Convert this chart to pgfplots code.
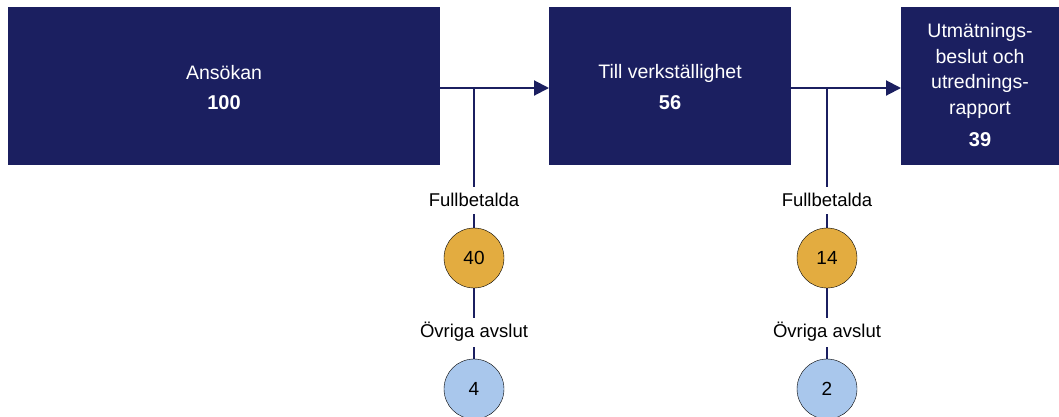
\documentclass[border=0pt]{standalone}
\usepackage{pgfplots}
\pgfplotsset{compat=1.18}
\usepackage{pgfplotstable}
\usetikzlibrary{arrows.meta}
\usepackage{fontspec}
\setmainfont{Liberation Sans}
\definecolor{navy}{RGB}{27,31,96}
\definecolor{gold}{RGB}{227,172,64}
\definecolor{lblue}{RGB}{169,199,236}
\pgfplotstableread{
x y v
224 103 100
670 103 56
980 140 39
}\boxvals
\pgfplotstableread{
x y v
474 258 40
827 258 14
}\fullb
\pgfplotstableread{
x y v
474 389 4
827 389 2
}\ovriga
\begin{document}
\begin{tikzpicture}
\begin{axis}[
  scale only axis, width=1059pt, height=416pt,
  xmin=0, xmax=1059, ymin=0, ymax=416, y dir=reverse,
  hide axis, clip marker paths=true,
  every node near coord/.append style={anchor=center},
]
\addplot[draw=none] coordinates {(0,0) (1059,416)};
% boxes
\addplot[fill=navy, draw=none] coordinates {(8,7) (440,7) (440,165) (8,165)};
\addplot[fill=navy, draw=none] coordinates {(549,7) (791,7) (791,165) (549,165)};
\addplot[fill=navy, draw=none] coordinates {(901,7) (1059,7) (1059,165) (901,165)};
% arrows
\addplot[navy, line width=2pt, -{Triangle[length=15pt,width=15pt]}] coordinates {(440,88) (549,88)};
\addplot[navy, line width=2pt, -{Triangle[length=15pt,width=15pt]}] coordinates {(791,88) (901,88)};
% vertical lines
\addplot[navy, line width=2pt] coordinates {(474,87) (474,187)};
\addplot[navy, line width=2pt] coordinates {(474,214) (474,235)};
\addplot[navy, line width=2pt] coordinates {(474,280) (474,318)};
\addplot[navy, line width=2pt] coordinates {(474,347) (474,370)};
\addplot[navy, line width=2pt] coordinates {(827,87) (827,187)};
\addplot[navy, line width=2pt] coordinates {(827,214) (827,235)};
\addplot[navy, line width=2pt] coordinates {(827,280) (827,318)};
\addplot[navy, line width=2pt] coordinates {(827,347) (827,370)};
% circles
\addplot[only marks, mark=*, mark size=30pt, mark options={fill=gold, draw=none},
  nodes near coords, point meta=explicit symbolic,
  every node near coord/.append style={font=\fontsize{19}{22}\selectfont, black}]
  table[x=x, y=y, meta=v] {\fullb};
\addplot[only marks, mark=*, mark size=30pt, mark options={fill=lblue, draw=none},
  nodes near coords, point meta=explicit symbolic,
  every node near coord/.append style={font=\fontsize{19}{22}\selectfont, black}]
  table[x=x, y=y, meta=v] {\ovriga};
% box values
\addplot[only marks, mark=none,
  nodes near coords, point meta=explicit symbolic,
  every node near coord/.append style={font=\fontsize{20}{24}\selectfont\bfseries, white}]
  table[x=x, y=y, meta=v] {\boxvals};
% labels
\node[white, font=\fontsize{19.5}{23}\selectfont] at (axis cs:224,73) {Ansökan};
\node[white, font=\fontsize{19.5}{23}\selectfont] at (axis cs:670,73) {Till verkställighet};
\node[white, font=\fontsize{19.5}{25.5}\selectfont, align=center, anchor=center] at (axis cs:980,71)
  {Utmätnings-\\beslut och\\utrednings-\\rapport};
\node[black, font=\fontsize{18.5}{22}\selectfont] at (axis cs:474,200) {Fullbetalda};
\node[black, font=\fontsize{18.5}{22}\selectfont] at (axis cs:827,200) {Fullbetalda};
\node[black, font=\fontsize{18.5}{22}\selectfont] at (axis cs:474,332) {Övriga avslut};
\node[black, font=\fontsize{18.5}{22}\selectfont] at (axis cs:827,332) {Övriga avslut};
\end{axis}
\end{tikzpicture}
\end{document}
